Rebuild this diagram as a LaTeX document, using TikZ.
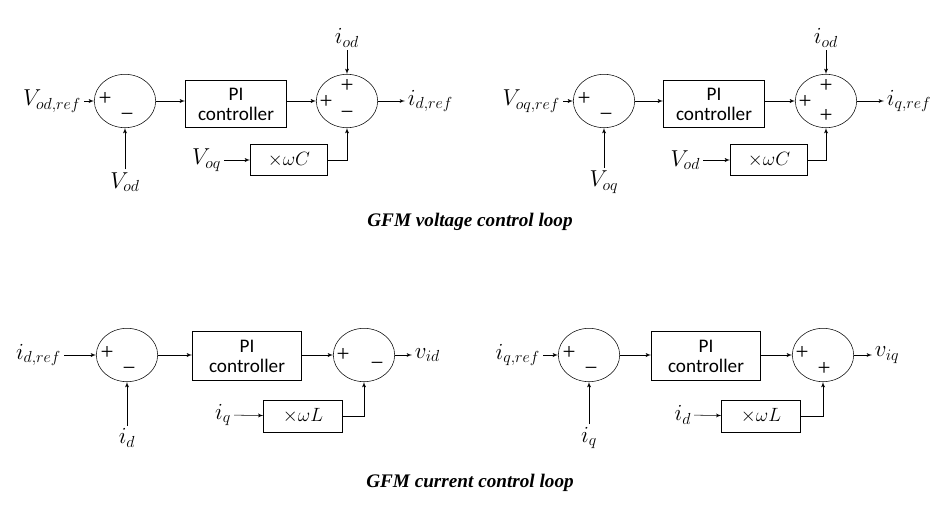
\documentclass[tikz,border=0pt]{standalone}
\usepackage{fontspec}
\setmainfont{Liberation Serif}
\setsansfont{Carlito}
\usetikzlibrary{shapes.geometric,arrows,positioning}
\tikzset{
  sum/.style={ellipse,draw,minimum width=46pt,minimum height=40pt,inner sep=0pt},
  blk/.style={rectangle,draw,font=\sffamily\Large,align=center,inner sep=0pt},
  lbl/.style={font=\LARGE,inner sep=2pt},
  sgn/.style={font=\LARGE,inner sep=0pt}
}
\begin{document}
\begin{tikzpicture}[x=0.75pt,y=-0.75pt,>=latex']
\useasboundingbox (0,0) rectangle (941,510);

% voltage loop, d axis
\node[sum] (S1) at (125,101) {};
\node[blk,minimum width=76pt,minimum height=35pt] (P1) at (236,104) {PI\\[-3pt]controller};
\node[sum] (S2) at (347,101) {};
\node[blk,minimum width=58pt,minimum height=23pt] (W1) at (289,160) {$\times\omega C$};
\node[lbl,anchor=east] (I1) at (84,101) {$V_{od,ref}$};
\node[lbl] (F1) at (125,182) {$V_{od}$};
\node[lbl] (T1) at (347,38) {$i_{od}$};
\node[lbl,anchor=west] (O1) at (405,101) {$i_{d,ref}$};
\node[lbl,anchor=east] (C1) at (224,160) {$V_{oq}$};
\node[sgn] at (105,99) {+};
\node[sgn] at (127,117) {\textminus};
\node[sgn] at (326,102) {+};
\node[sgn] at (347,86) {+};
\node[sgn] at (347,115) {\textminus};
\draw[->] (I1) -- (S1);
\draw[->] (F1) -- (S1);
\draw[->] (S1) -- (P1.west|-S1);
\draw[->] (P1.east|-S1) -- (S2);
\draw[->] (T1) -- (S2);
\draw[->] (S2) -- (O1);
\draw[->] (C1) -- (W1);
\draw[->] (W1.east) -| (S2.south);

% voltage loop, q axis
\node[sum] (S3) at (604,101) {};
\node[blk,minimum width=76pt,minimum height=35pt] (P2) at (714,104) {PI\\[-3pt]controller};
\node[sum] (S4) at (826,101) {};
\node[blk,minimum width=58pt,minimum height=23pt] (W2) at (769,160) {$\times\omega C$};
\node[lbl,anchor=east] (I2) at (563,101) {$V_{oq,ref}$};
\node[lbl] (F2) at (604,182) {$V_{oq}$};
\node[lbl] (T2) at (826,38) {$i_{od}$};
\node[lbl,anchor=west] (O2) at (884,101) {$i_{q,ref}$};
\node[lbl,anchor=east] (C2) at (703,160) {$V_{od}$};
\node[sgn] at (584,99) {+};
\node[sgn] at (606,117) {\textminus};
\node[sgn] at (805,102) {+};
\node[sgn] at (826,86) {+};
\node[sgn] at (826,116) {+};
\draw[->] (I2) -- (S3);
\draw[->] (F2) -- (S3);
\draw[->] (S3) -- (P2.west|-S3);
\draw[->] (P2.east|-S3) -- (S4);
\draw[->] (T2) -- (S4);
\draw[->] (S4) -- (O2);
\draw[->] (C2) -- (W2);
\draw[->] (W2.east) -| (S4.south);

\node[font=\Large\bfseries\itshape] (V) at (470,222) {GFM voltage control loop};

% current loop, d axis
\node[sum] (S5) at (127,355) {};
\node[blk,minimum width=82pt,minimum height=37pt] (P3) at (247,356) {PI\\[-3pt]controller};
\node[sum] (S6) at (364,355) {};
\node[blk,minimum width=59pt,minimum height=24pt] (W3) at (303,416) {$\times\omega L$};
\node[lbl,anchor=east] (I3) at (64,355) {$i_{d,ref}$};
\node[lbl] (F3) at (127,438) {$i_{d}$};
\node[lbl,anchor=west] (O3) at (412,355) {$v_{id}$};
\node[lbl,anchor=east] (C3) at (234,415) {$i_{q}$};
\node[sgn] at (107,353) {+};
\node[sgn] at (129,371) {\textminus};
\node[sgn] at (343,355) {+};
\node[sgn] at (377,366) {\textminus};
\draw[->] (I3) -- (S5);
\draw[->] (F3) -- (S5);
\draw[->] (S5) -- (P3.west|-S5);
\draw[->] (P3.east|-S5) -- (S6);
\draw[->] (S6) -- (O3);
\draw[->] (C3) -- (W3);
\draw[->] (W3.east) -| (S6.south);

% current loop, q axis
\node[sum] (S7) at (589,355) {};
\node[blk,minimum width=82pt,minimum height=37pt] (P4) at (706,356) {PI\\[-3pt]controller};
\node[sum] (S8) at (823,355) {};
\node[blk,minimum width=59pt,minimum height=24pt] (W4) at (761,416) {$\times\omega L$};
\node[lbl,anchor=east] (I4) at (543,355) {$i_{q,ref}$};
\node[lbl] (F4) at (589,438) {$i_{q}$};
\node[lbl,anchor=west] (O4) at (872,355) {$v_{iq}$};
\node[lbl,anchor=east] (C4) at (694,415) {$i_{d}$};
\node[sgn] at (802,353) {+};
\node[sgn] at (569,353) {+};
\node[sgn] at (591,371) {\textminus};
\node[sgn] at (824,369) {+};
\draw[->] (I4) -- (S7);
\draw[->] (F4) -- (S7);
\draw[->] (S7) -- (P4.west|-S7);
\draw[->] (P4.east|-S7) -- (S8);
\draw[->] (S8) -- (O4);
\draw[->] (C4) -- (W4);
\draw[->] (W4.east) -| (S8.south);

\node[font=\Large\bfseries\itshape] (I) at (470,483) {GFM current control loop};
\end{tikzpicture}
\end{document}
